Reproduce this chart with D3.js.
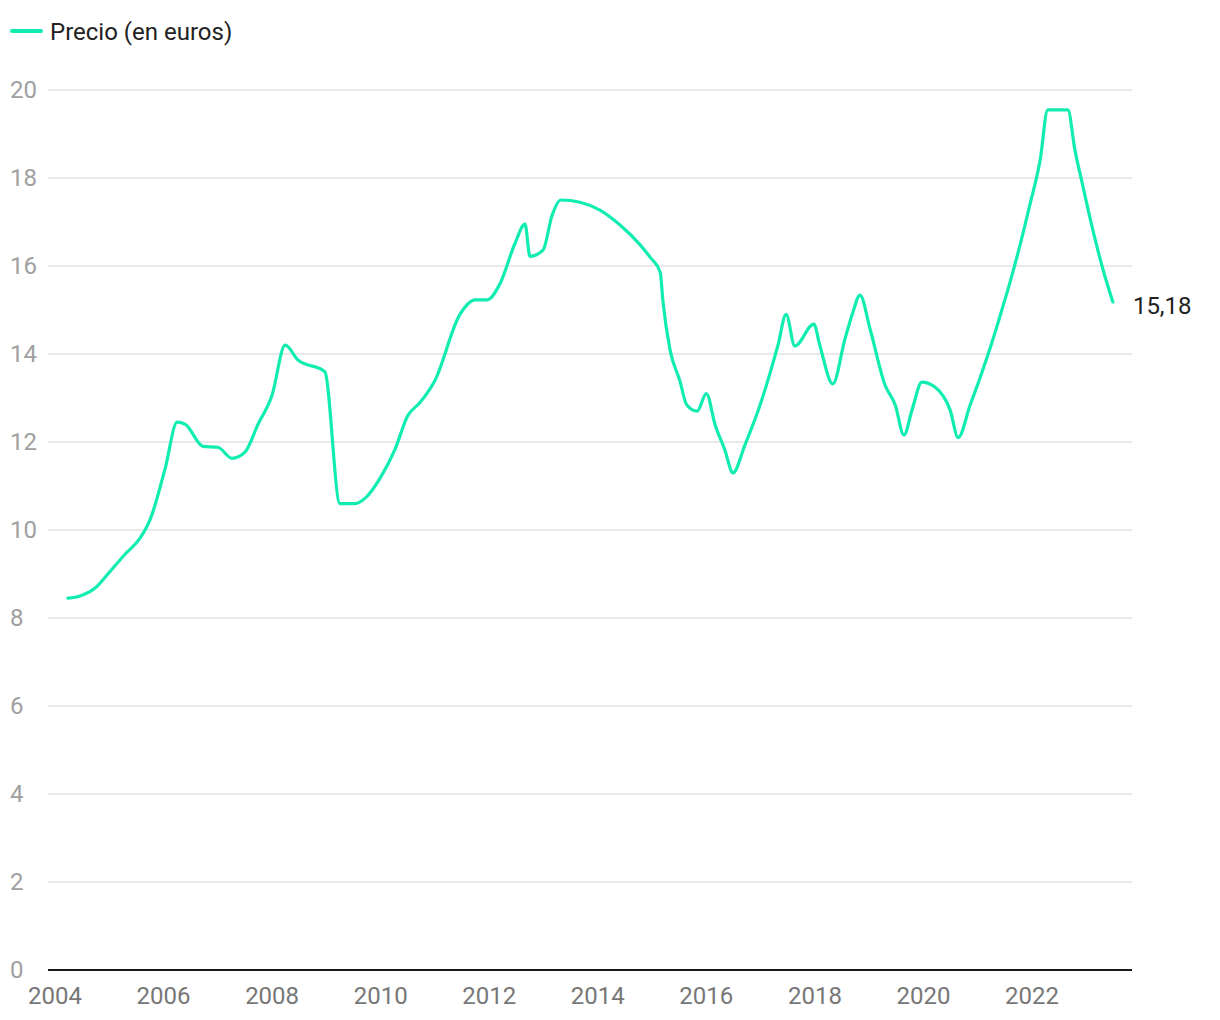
<!DOCTYPE html>
<html><head><meta charset="utf-8">
<script src="https://cdn.jsdelivr.net/npm/d3@7"></script>
<style>body{margin:0;background:#fff;font-family:Roboto,sans-serif}</style>
</head><body><svg id="c" width="1220" height="1020"></svg>
<script>
const seriesName = "Precio (en euros)";
const years = [2004.24,2004.46,2004.74,2005.01,2005.29,2005.57,2005.75,2006.03,2006.25,2006.4,2006.73,2007.0,2007.26,2007.5,2007.74,2008.0,2008.24,2008.48,2008.97,2009.25,2009.53,2009.72,2009.99,2010.26,2010.5,2010.72,2011.0,2011.46,2011.74,2011.96,2012.2,2012.47,2012.66,2012.75,2012.99,2013.16,2013.32,2013.67,2014.04,2014.41,2014.78,2014.97,2015.15,2015.2,2015.33,2015.51,2015.64,2015.83,2016.0,2016.16,2016.34,2016.49,2016.71,2016.99,2017.32,2017.47,2017.63,2017.98,2018.09,2018.33,2018.55,2018.7,2018.83,2019.02,2019.29,2019.48,2019.64,2019.79,2019.97,2020.21,2020.49,2020.64,2020.86,2021.04,2021.23,2021.41,2021.59,2021.78,2021.96,2022.15,2022.29,2022.66,2022.79,2022.94,2023.12,2023.31,2023.49];
const values = [8.45,8.5,8.68,9.05,9.45,9.82,10.23,11.4,12.45,12.4,11.9,11.88,11.63,11.77,12.4,13.07,14.2,13.86,13.6,10.6,10.6,10.73,11.18,11.82,12.6,12.89,13.4,14.9,15.23,15.23,15.6,16.5,16.95,16.22,16.36,17.16,17.5,17.45,17.27,16.93,16.48,16.19,15.86,15.2,14.1,13.4,12.84,12.7,13.1,12.4,11.82,11.3,11.93,12.84,14.2,14.9,14.18,14.68,14.2,13.32,14.32,14.95,15.34,14.55,13.3,12.84,12.16,12.73,13.36,13.25,12.73,12.1,12.84,13.45,14.14,14.86,15.61,16.48,17.39,18.41,19.55,19.55,18.64,17.8,16.82,15.91,15.18];
const yTicks = [0,2,4,6,8,10,12,14,16,18,20];
const xTicks = [2004,2006,2008,2010,2012,2014,2016,2018,2020,2022];
const endLabel = "15,18";
const color = "#11ecb1";

const svg = d3.select("#c");
const x = d3.scaleLinear().domain([2003.871, 2023.842]).range([48, 1132]);
const y = d3.scaleLinear().domain([0, 20]).range([970, 90]);

svg.append("g").selectAll("line").data(yTicks.filter(d=>d>0)).join("line")
  .attr("x1", 48).attr("x2", 1132).attr("y1", d=>y(d)).attr("y2", d=>y(d))
  .attr("stroke", "#e2e2e2").attr("stroke-width", 1.5);
svg.append("g").selectAll("text").data(yTicks).join("text")
  .attr("x", 10).attr("y", d=>y(d)).attr("dy", "0.35em")
  .attr("font-size", 24).attr("fill", "#a0a0a0").text(d=>d);
svg.append("line").attr("x1",48).attr("x2",1132).attr("y1",y(0)).attr("y2",y(0))
  .attr("stroke","#1a1a1a").attr("stroke-width",2);
svg.append("g").selectAll("text").data(xTicks).join("text")
  .attr("x", d=>x(d)).attr("y", 1004).attr("text-anchor","middle")
  .attr("font-size", 24).attr("fill", "#777").text(d=>d);

const data = years.map((t,i)=>({t, v: values[i]}));
const line = d3.line().x(d=>x(d.t)).y(d=>y(d.v)).curve(d3.curveMonotoneX);
svg.append("path").datum(data).attr("d", line).attr("fill","none")
  .attr("stroke", color).attr("stroke-width", 3.2).attr("stroke-linejoin","round").attr("stroke-linecap","round");

const last = data[data.length-1];
svg.append("text").attr("x", x(last.t)+20).attr("y", y(last.v)+4).attr("dy","0.35em")
  .attr("font-size", 24).attr("fill","#222").text(endLabel);

svg.append("line").attr("x1",12).attr("x2",41).attr("y1",31).attr("y2",31)
  .attr("stroke",color).attr("stroke-width",4).attr("stroke-linecap","round");
svg.append("text").attr("x",50).attr("y",32).attr("dy","0.35em")
  .attr("font-size",24).attr("fill","#222").text(seriesName);
</script></body></html>
